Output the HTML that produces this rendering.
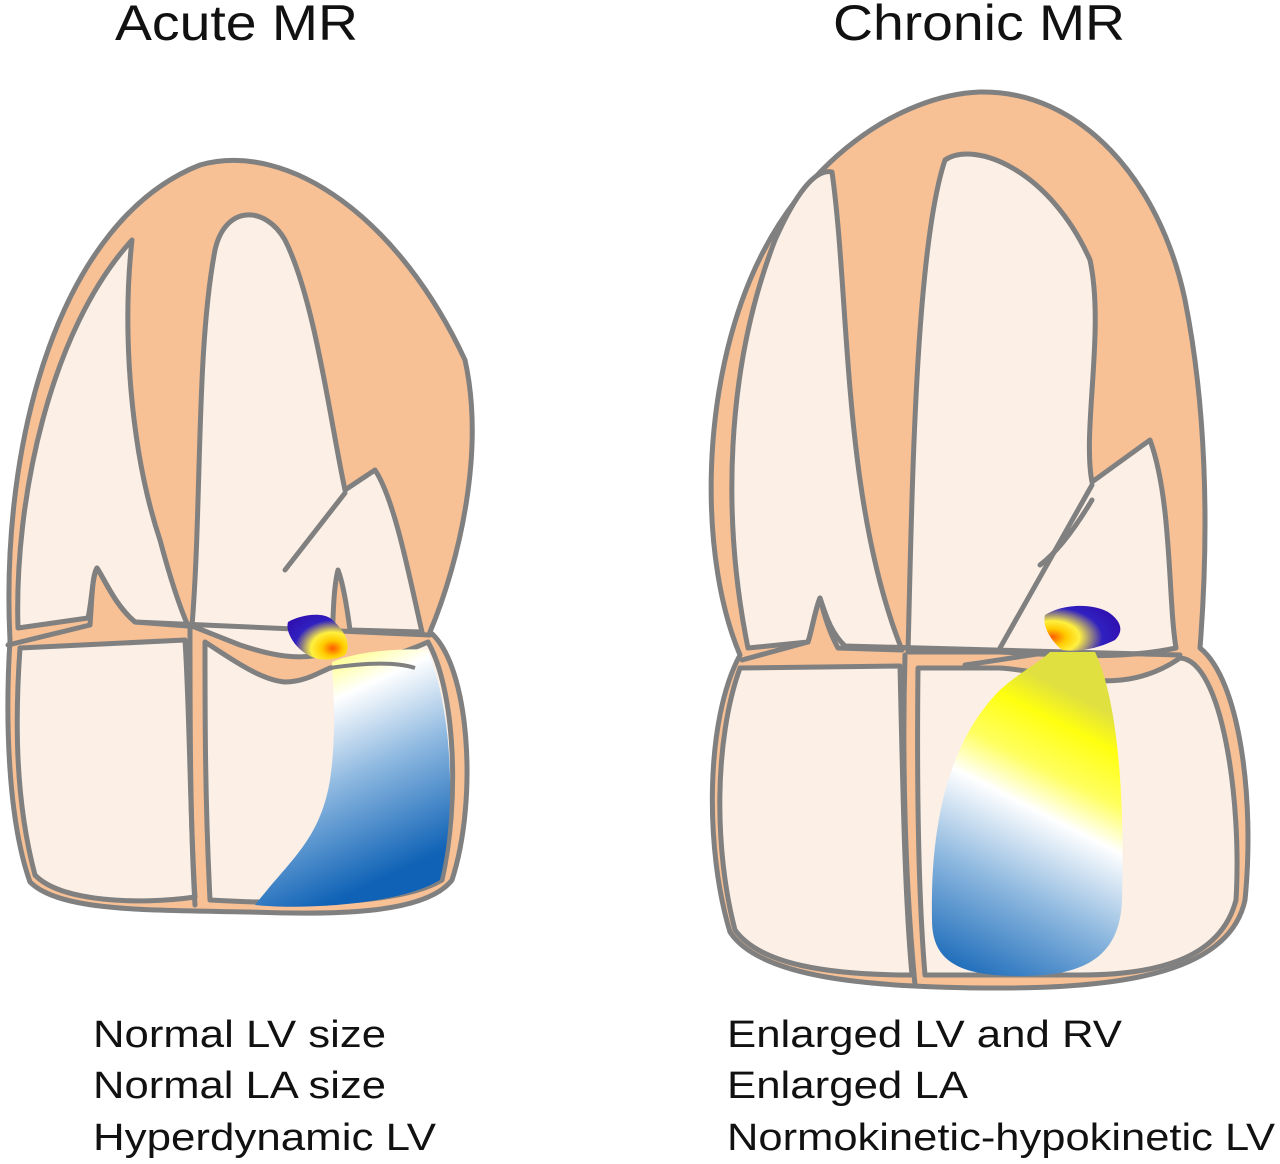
<!DOCTYPE html>
<html><head><meta charset="utf-8"><style>
html,body{margin:0;padding:0;background:#fff;}
svg{display:block;}
text{font-family:"Liberation Sans",Arial,sans-serif;fill:#111;}
</style></head><body>
<svg width="1280" height="1164" viewBox="0 0 1280 1164" xmlns="http://www.w3.org/2000/svg">
<defs>
<linearGradient id="jetL" x1="0" y1="0" x2="0.35" y2="1">
<stop offset="0" stop-color="#ffff30"/><stop offset="0.18" stop-color="#ffffa0"/><stop offset="0.3" stop-color="#ffffff"/><stop offset="0.6" stop-color="#8db8e0"/><stop offset="1" stop-color="#0f62b6"/>
</linearGradient>
<linearGradient id="jetR" x1="0.3" y1="0" x2="0" y2="1">
<stop offset="0" stop-color="#e0e040"/><stop offset="0.1" stop-color="#ffff10"/><stop offset="0.25" stop-color="#ffff60"/><stop offset="0.38" stop-color="#ffffff"/><stop offset="0.65" stop-color="#8ab6de"/><stop offset="1" stop-color="#0a5fb4"/>
</linearGradient>
<radialGradient id="flareL" cx="0.75" cy="0.75" r="0.9">
<stop offset="0" stop-color="#ff5a00"/><stop offset="0.2" stop-color="#ffcc00"/><stop offset="0.4" stop-color="#fff040"/><stop offset="0.7" stop-color="#3020c0"/><stop offset="1" stop-color="#3010b0"/>
</radialGradient>
<radialGradient id="flareR" cx="0.1" cy="0.7" r="0.95">
<stop offset="0" stop-color="#ff5a00"/><stop offset="0.2" stop-color="#ffcc00"/><stop offset="0.38" stop-color="#fff040"/><stop offset="0.7" stop-color="#3020c0"/><stop offset="1" stop-color="#3010b0"/>
</radialGradient>
</defs>

<text x="115" y="40" font-size="50" textLength="243" lengthAdjust="spacingAndGlyphs">Acute MR</text>
<text x="833" y="40" font-size="50" textLength="292" lengthAdjust="spacingAndGlyphs">Chronic MR</text>

<g stroke="#808080" stroke-width="5" stroke-linejoin="round" stroke-linecap="round">
<!-- LEFT HEART -->
<path fill="#F7C095" d="M 10,640 C 0,440 60,220 200,165 C 290,140 400,220 465,360 C 485,450 460,560 430,632 C 470,665 478,800 452,880 C 425,915 330,915 250,912 C 150,910 60,912 30,882 C 8,820 5,720 10,640 Z"/>
<path fill="#FCEFE5" d="M 18,628 C 14,500 50,330 132,240 C 122,330 130,450 160,540 C 172,585 182,612 188,626 L 135,622 C 115,605 105,580 97,568 C 92,578 92,600 88,618 Z"/>
<path fill="#FCEFE5" d="M 192,626 C 202,500 196,350 215,250 C 225,205 265,205 285,240 C 315,300 330,420 345,490 L 375,470 C 395,500 410,580 422,632 L 350,630 C 346,600 342,580 338,570 C 334,585 333,610 332,652 C 300,662 270,655 240,645 Z"/>
<path fill="#FCEFE5" d="M 20,648 L 185,640 C 190,720 190,820 195,897 C 140,905 60,902 35,875 C 15,800 15,720 20,648 Z"/>
<path fill="#FCEFE5" d="M 205,642 C 230,658 260,680 285,682 C 305,682 320,672 330,668 C 360,665 400,655 428,642 C 455,690 460,800 442,880 C 400,905 300,905 210,900 C 205,800 205,720 205,642 Z"/>
<path fill="none" d="M 285,570 L 345,493"/>
<path fill="none" d="M 8,645 L 90,625 C 92,600 92,575 97,568 C 105,580 115,605 135,622 L 430,635"/>
<path fill="none" d="M 190,628 C 190,720 190,820 195,905"/>
</g>
<path fill="url(#jetL)" d="M 332,662 C 360,650 410,648 428,650 C 455,720 455,820 440,880 C 400,905 300,910 255,905 C 290,860 320,840 330,780 C 336,740 334,700 332,662 Z"/>
<path fill="url(#flareL)" d="M 288,622 C 300,615 320,612 330,618 C 345,630 352,645 345,655 C 335,660 320,662 308,655 C 295,648 285,632 288,622 Z"/>
<path fill="none" stroke="#808080" stroke-width="4" d="M 330,668 C 350,665 390,660 415,668"/>

<g stroke="#808080" stroke-width="5" stroke-linejoin="round" stroke-linecap="round">
<!-- RIGHT HEART -->
<path fill="#F7C095" d="M 740,655 C 700,560 700,400 750,280 C 800,160 900,95 980,92 C 1080,90 1160,180 1185,300 C 1205,400 1210,520 1200,648 C 1240,680 1255,800 1245,900 C 1230,970 1130,988 1000,988 C 870,988 760,978 730,932 C 705,850 705,720 740,655 Z"/>
<path fill="#FCEFE5" d="M 748,648 C 722,520 725,370 775,240 C 795,195 815,168 832,172 C 850,300 842,500 902,650 L 838,648 C 828,630 823,610 820,598 C 815,610 812,630 808,642 Z"/>
<path fill="#FCEFE5" d="M 908,652 C 912,500 915,250 945,160 C 975,140 1050,170 1090,260 C 1105,330 1082,430 1092,482 L 1150,440 C 1172,500 1168,600 1176,648 C 1120,660 1060,655 1000,652 Z"/>
<path fill="#FCEFE5" d="M 740,668 L 900,666 C 903,800 905,900 912,975 C 830,975 760,965 735,930 C 714,850 714,740 740,668 Z"/>
<path fill="#FCEFE5" d="M 918,668 L 1000,668 C 1060,672 1120,700 1180,658 C 1222,660 1242,800 1236,900 C 1220,962 1150,975 1080,975 L 925,975 C 917,880 917,760 918,668 Z"/>
<path fill="none" d="M 742,660 L 808,642 C 812,630 815,610 820,598 C 825,612 830,632 845,646 L 1180,655"/>
<path fill="none" d="M 1000,648 L 1092,485"/>
<path fill="none" d="M 1040,565 C 1060,550 1080,520 1092,500"/>
<path fill="none" d="M 905,655 C 902,760 905,880 915,985"/>
<path fill="none" d="M 965,665 C 1000,660 1030,655 1050,652"/>
</g>
<path fill="url(#jetR)" d="M 1050,652 L 1095,652 C 1118,700 1125,800 1122,900 C 1120,960 1080,976 1020,976 C 960,976 932,962 932,920 C 930,820 950,740 1000,690 C 1020,672 1040,662 1050,652 Z"/>
<path fill="url(#flareR)" d="M 1045,615 C 1060,605 1090,602 1108,612 C 1120,620 1125,630 1115,640 C 1095,650 1075,652 1062,650 C 1050,640 1042,625 1045,615 Z"/>

<g font-size="38">
<text x="93" y="1047" textLength="293" lengthAdjust="spacingAndGlyphs">Normal LV size</text>
<text x="93" y="1098" textLength="293" lengthAdjust="spacingAndGlyphs">Normal LA size</text>
<text x="93" y="1150" textLength="343" lengthAdjust="spacingAndGlyphs">Hyperdynamic LV</text>
<text x="727" y="1047" textLength="395" lengthAdjust="spacingAndGlyphs">Enlarged LV and RV</text>
<text x="727" y="1098" textLength="241" lengthAdjust="spacingAndGlyphs">Enlarged LA</text>
<text x="727" y="1150" textLength="548" lengthAdjust="spacingAndGlyphs">Normokinetic-hypokinetic LV</text>
</g>
</svg>
</body></html>
